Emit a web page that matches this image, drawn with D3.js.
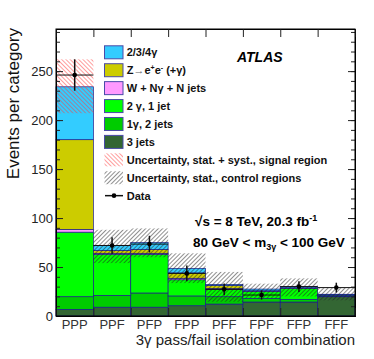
<!DOCTYPE html>
<html>
<head>
<meta charset="utf-8">
<script src="https://cdn.jsdelivr.net/npm/d3@7"></script>
<style>
  body { margin: 0; background: #fff; }
  text { font-family: 'Liberation Sans', Arial, Helvetica, sans-serif; }
</style>
</head>
<body>
<div id="chart"></div>
<script>
// bins and per-process yields
const categories = ['PPP', 'PPF', 'PFP', 'FPP', 'PFF', 'FPF', 'FFP', 'FFF'];
const threeJets = [6.8, 9.0, 9.0, 10.5, 12.2, 14.3, 14.3, 19.7];
const oneGam2Jets = [12.9, 12.0, 14.5, 10.0, 7.5, 3.7, 2.7, 0.8];
const twoGam1Jet = [65.9, 42.0, 39.5, 16.5, 7.5, 7.0, 11.0, 1.0];
const wJets = [2.8, 1.0, 1.0, 1.5, 0.8, 0.3, 0.3, 0.1];
const zee = [91.6, 3.0, 4.0, 5.5, 3.0, 0.5, 0.5, 0.2];
const multiGam = [54.0, 5.0, 7.0, 4.6, 1.3, 1.7, 1.2, 0.4];
const dataVals = [246, 72, 73.4, 43.5, 27.2, 21.4, 30, 29];
const dataErr = [16, 8.5, 8.5, 8, 6, 4.7, 5.5, 5];
const uncLo = [207, 54, 60, 33.6, 14.6, 18, 20, 16];
const uncHi = [262, 88, 89.4, 64, 45, 33, 38.4, 28.5];
const yTicks = [0, 50, 100, 150, 200, 250];

const keys = ['threeJets', 'oneGam2Jets', 'twoGam1Jet', 'wJets', 'zee', 'multiGam'];
const colors = {
    threeJets: '#336633',
    oneGam2Jets: '#00cc00',
    twoGam1Jet: '#00ff00',
    wJets: '#ff99ff',
    zee: '#cccc00',
    multiGam: '#33ccff',
};
const rows = categories.map((c, i) => ({
    cat: c,
    threeJets: threeJets[i],
    oneGam2Jets: oneGam2Jets[i],
    twoGam1Jet: twoGam1Jet[i],
    wJets: wJets[i],
    zee: zee[i],
    multiGam: multiGam[i],
}));

const width = 374;
const height = 359;
const margins = { top: 29, right: 19, bottom: 43, left: 56 };
const plotW = width - margins.left - margins.right;
const plotH = height - margins.top - margins.bottom;

const svg = d3.select('#chart').append('svg')
    .attr('width', width)
    .attr('height', height);

const defs = svg.append('defs');
const hatch = (id, color, angle, sw) => {
    const p = defs.append('pattern')
        .attr('id', id)
        .attr('patternUnits', 'userSpaceOnUse')
        .attr('width', 3)
        .attr('height', 3)
        .attr('patternTransform', `rotate(${angle})`);
    p.append('line')
        .attr('x1', 0).attr('y1', 0).attr('x2', 0).attr('y2', 3)
        .attr('stroke', color)
        .attr('stroke-width', sw);
};
hatch('hatchRed', '#ff3b3b', -45, 1);
hatch('hatchBlack', '#222', 45, 1);

const g = svg.append('g')
    .attr('transform', `translate(${margins.left},${margins.top})`);

const x = d3.scaleBand().domain(categories).range([0, plotW]).paddingInner(0).paddingOuter(0);
const xEdge = d3.scaleLinear().domain([0, categories.length]).range([0, plotW]);
const y = d3.scaleLinear().domain([0, 293]).range([plotH, 0]);

// stacked backgrounds
const series = d3.stack().keys(keys)(rows);
g.selectAll('.layer')
    .data(series)
    .enter()
    .append('g')
    .attr('class', 'layer')
    .attr('fill', d => colors[d.key])
    .selectAll('rect')
    .data(d => d)
    .enter()
    .append('rect')
    .attr('x', d => x(d.data.cat))
    .attr('width', x.bandwidth())
    .attr('y', d => y(d[1]))
    .attr('height', d => y(d[0]) - y(d[1]))
    .attr('stroke', '#1c1c8a')
    .attr('stroke-width', 0.7);

// uncertainty bands
g.selectAll('.unc')
    .data(categories)
    .enter()
    .append('rect')
    .attr('class', 'unc')
    .attr('x', d => x(d))
    .attr('width', x.bandwidth())
    .attr('y', (d, i) => y(uncHi[i]))
    .attr('height', (d, i) => y(uncLo[i]) - y(uncHi[i]))
    .attr('fill', (d, i) => (i === 0 ? 'url(#hatchRed)' : 'url(#hatchBlack)'));

// data points
const pts = g.selectAll('.pt')
    .data(categories)
    .enter()
    .append('g')
    .attr('class', 'pt');
pts.append('line')
    .attr('x1', d => x(d)).attr('x2', d => x(d) + x.bandwidth())
    .attr('y1', (d, i) => y(dataVals[i])).attr('y2', (d, i) => y(dataVals[i]))
    .attr('stroke', '#111').attr('stroke-width', 1);
pts.append('line')
    .attr('x1', d => x(d) + x.bandwidth() / 2).attr('x2', d => x(d) + x.bandwidth() / 2)
    .attr('y1', (d, i) => y(dataVals[i] + dataErr[i])).attr('y2', (d, i) => y(dataVals[i] - dataErr[i]))
    .attr('stroke', '#111').attr('stroke-width', 1.5);
pts.append('circle')
    .attr('cx', d => x(d) + x.bandwidth() / 2)
    .attr('cy', (d, i) => y(dataVals[i]))
    .attr('r', 2.3)
    .attr('fill', '#000');

// axes
const yMajor = g.append('g')
    .call(d3.axisLeft(y).tickValues(yTicks).tickSize(-7).tickPadding(3));
yMajor.selectAll('text').style('font-size', '13px').attr('fill', '#222');
g.append('g')
    .call(d3.axisLeft(y).tickValues(d3.range(0, 291, 10)).tickSize(-4).tickFormat(''));
g.append('g')
    .attr('transform', `translate(${plotW},0)`)
    .call(d3.axisRight(y).tickValues(yTicks).tickSize(-7).tickFormat(''));
g.append('g')
    .attr('transform', `translate(${plotW},0)`)
    .call(d3.axisRight(y).tickValues(d3.range(0, 291, 10)).tickSize(-4).tickFormat(''));

const xLab = g.append('g')
    .attr('transform', `translate(0,${plotH})`)
    .call(d3.axisBottom(x).tickSize(0).tickPadding(4));
xLab.select('.domain').remove();
xLab.selectAll('text').style('font-size', '13px').attr('fill', '#333');
g.append('g')
    .attr('transform', `translate(0,${plotH})`)
    .call(d3.axisBottom(xEdge).ticks(8).tickSize(-8).tickFormat(''));
g.append('g')
    .call(d3.axisTop(xEdge).ticks(8).tickSize(-8).tickFormat(''));
g.selectAll('.domain').attr('stroke', '#000');
g.selectAll('.tick line').attr('stroke', '#222');

g.append('rect')
    .attr('width', plotW).attr('height', plotH)
    .attr('fill', 'none').attr('stroke', '#000').attr('stroke-width', 1);

// titles
svg.append('text')
    .attr('transform', 'rotate(-90)')
    .attr('x', -28)
    .attr('y', 19)
    .attr('text-anchor', 'end')
    .style('font-size', '17px')
    .attr('fill', '#111')
    .text('Events per category');
const xt = svg.append('text')
    .attr('x', 355)
    .attr('y', 345)
    .attr('text-anchor', 'end')
    .style('font-size', '15px')
    .attr('fill', '#222');
xt.text('3γ pass/fail isolation combination');

// legend
const legendItems = [
    { label: 'multi', fill: colors.multiGam },
    { label: 'zee', fill: colors.zee },
    { label: 'W + Nγ + N jets', fill: colors.wJets },
    { label: '2 γ, 1 jet', fill: colors.twoGam1Jet },
    { label: '1γ, 2 jets', fill: colors.oneGam2Jets },
    { label: '3 jets', fill: colors.threeJets },
    { label: 'Uncertainty, stat. + syst., signal region', fill: 'url(#hatchRed)', hatch: true },
    { label: 'Uncertainty, stat., control regions', fill: 'url(#hatchBlack)', hatch: true },
    { label: 'Data', data: true },
];
const lg = svg.append('g').attr('transform', 'translate(104,52.3)');
const item = lg.selectAll('.li')
    .data(legendItems)
    .enter()
    .append('g')
    .attr('class', 'li')
    .attr('transform', (d, i) => `translate(0,${i * 17.92})`);
item.filter(d => !d.data).append('rect')
    .attr('x', 0.5).attr('y', -6.5)
    .attr('width', 18.5).attr('height', 13)
    .attr('fill', d => d.fill)
    .attr('stroke', d => (d.hatch ? 'none' : '#4a4aa8'))
    .attr('stroke-width', 1);
const dataItem = item.filter(d => d.data);
dataItem.append('line')
    .attr('x1', 1).attr('x2', 19).attr('y1', 0).attr('y2', 0)
    .attr('stroke', '#111').attr('stroke-width', 1.5);
dataItem.append('circle').attr('cx', 10).attr('cy', 0).attr('r', 2.3).attr('fill', '#000');
const lt = item.append('text')
    .attr('x', 22.7)
    .attr('y', 4)
    .style('font-size', '11px')
    .style('font-weight', 'bold')
    .attr('fill', '#111');
lt.each(function (d) {
    const t = d3.select(this);
    if (d.label === 'multi') {
        t.text('2/3/4γ');
    } else if (d.label === 'zee') {
        t.append('tspan').text('Z');
        t.append('tspan').attr('fill', '#666').style('font-weight', 'normal').text('→');
        t.append('tspan').text('e');
        t.append('tspan').attr('dy', -4).style('font-size', '7px').text('+');
        t.append('tspan').attr('dy', 4).text('e');
        t.append('tspan').attr('dy', -4).style('font-size', '7px').text('-');
        t.append('tspan').attr('dy', 4).text(' (+γ)');
    } else {
        t.text(d.label);
    }
});

svg.append('text')
    .attr('x', 237).attr('y', 62)
    .style('font-size', '14px')
    .style('font-weight', 'bold')
    .style('font-style', 'italic')
    .attr('fill', '#000')
    .text('ATLAS');

const l1 = svg.append('text')
    .attr('x', 195).attr('y', 226)
    .style('font-size', '13.5px')
    .style('font-weight', 'bold')
    .attr('fill', '#000');
l1.append('tspan').text('√s = 8 TeV, 20.3 fb');
l1.append('tspan').attr('dy', -5).style('font-size', '9px').text('-1');

const l2 = svg.append('text')
    .attr('x', 193).attr('y', 247)
    .style('font-size', '13.5px')
    .style('font-weight', 'bold')
    .attr('fill', '#000');
l2.append('tspan').text('80 GeV < m');
l2.append('tspan').attr('dy', 3).style('font-size', '9px').text('3γ');
l2.append('tspan').attr('dy', -3).text(' < 100 GeV');
</script>
</body>
</html>
